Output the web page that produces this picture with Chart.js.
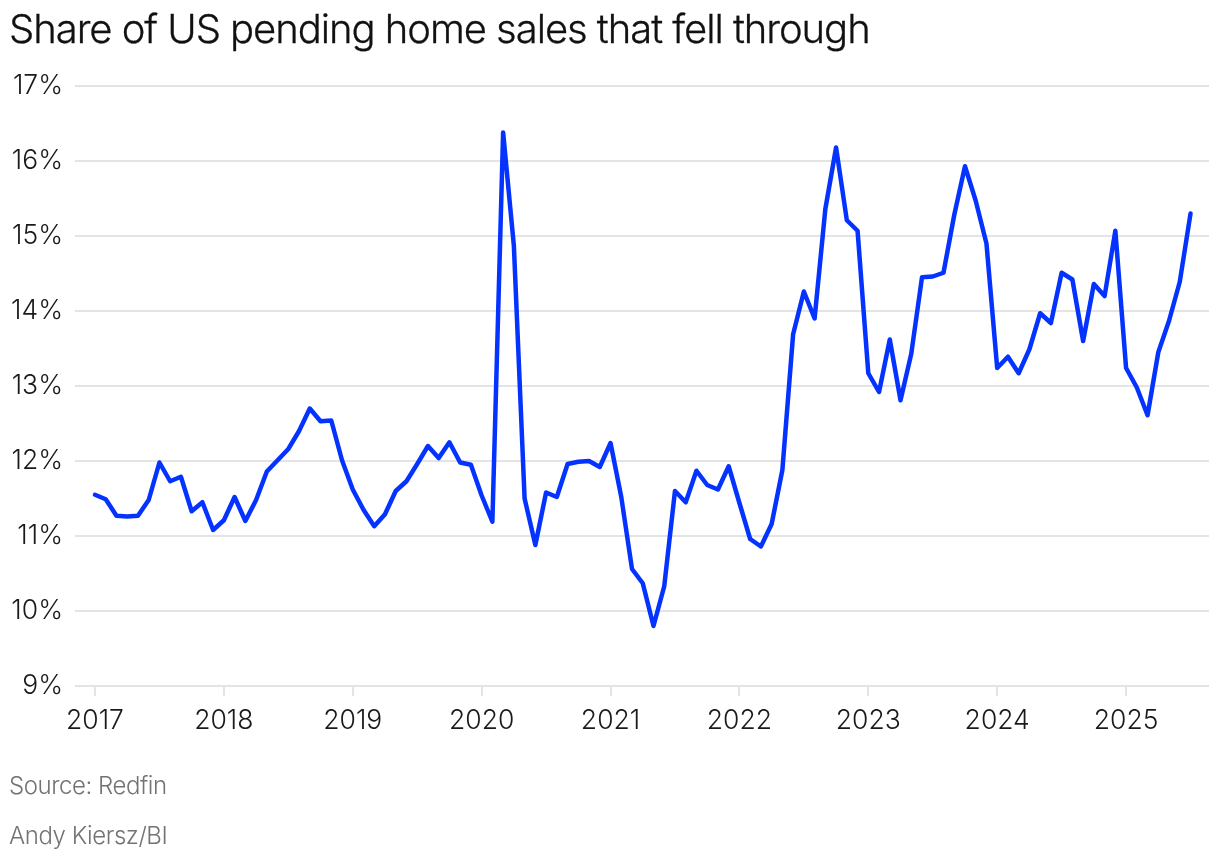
<!DOCTYPE html>
<html>
<head>
<meta charset="utf-8">
<title>Share of US pending home sales that fell through</title>
<script src="https://cdn.jsdelivr.net/npm/chart.js@4"></script>
<style>
    html, body { margin: 0; padding: 0; background: #fff; }
    body { width: 1220px; height: 860px; position: relative; overflow: hidden; font-family: Inter, sans-serif; }
    canvas { position: absolute; left: 0; top: 0; }
    .text { position: absolute; left: 9px; white-space: nowrap; }
    #title { top: 6px; font-size: 40px; line-height: 46px; font-weight: 300; letter-spacing: -1.05px; color: #111; -webkit-text-stroke: 0.3px #111; }
    .note { font-size: 24px; line-height: 30px; font-weight: 300; letter-spacing: -0.45px; color: #737373; }
</style>
</head>
<body>
<canvas id="fallThroughChart" width="1220" height="860"></canvas>
<div class="text" id="title">Share of US pending home sales that fell through</div>
<div class="text note" style="top: 771px">Source: Redfin</div>
<div class="text note" style="top: 821px">Andy Kiersz/BI</div>
<script>
window.addEventListener('DOMContentLoaded', function() {
    // Monthly values by year
    var values = {
        2017: [11.55, 11.49, 11.27, 11.26, 11.27, 11.48, 11.98, 11.73, 11.79, 11.33, 11.45, 11.08],
        2018: [11.21, 11.52, 11.20, 11.48, 11.86, 12.01, 12.16, 12.40, 12.70, 12.53, 12.54, 12.01],
        2019: [11.62, 11.35, 11.13, 11.29, 11.60, 11.73, 11.96, 12.20, 12.04, 12.25, 11.98, 11.95],
        2020: [11.54, 11.19, 16.38, 14.87, 11.50, 10.88, 11.58, 11.52, 11.96, 11.99, 12.00, 11.92],
        2021: [12.24, 11.52, 10.56, 10.37, 9.80, 10.33, 11.60, 11.45, 11.87, 11.68, 11.62, 11.93],
        2022: [11.44, 10.96, 10.86, 11.16, 11.88, 13.69, 14.26, 13.90, 15.36, 16.18, 15.21, 15.07],
        2023: [13.17, 12.92, 13.62, 12.81, 13.43, 14.45, 14.46, 14.51, 15.28, 15.93, 15.47, 14.90],
        2024: [13.24, 13.39, 13.17, 13.49, 13.97, 13.84, 14.51, 14.42, 13.60, 14.36, 14.20, 15.07],
        2025: [13.24, 12.98, 12.61, 13.45, 13.87, 14.39, 15.30]
    };

    // x is months since Jan 2017
    var points = [];
    Object.keys(values).forEach(function(year) {
        values[year].forEach(function(v, month) {
            points.push({ x: (year - 2017) * 12 + month, y: v });
        });
    });

    var tickFont = { family: 'Inter', size: 26.5, weight: '300' };

    var ctx = document.getElementById('fallThroughChart').getContext('2d');
    var fallThroughChart = new Chart(ctx, {
        type: 'line',
        data: {
            datasets: [{
                data: points,
                borderColor: '#0433ff',
                borderWidth: 4.5,
                borderJoinStyle: 'round',
                borderCapStyle: 'round',
                pointRadius: 0,
                tension: 0
            }]
        },
        options: {
            responsive: false,
            animation: false,
            layout: { padding: { top: 86, right: 11, bottom: 0, left: 0 } },
            plugins: {
                legend: { display: false },
                tooltip: { enabled: false }
            },
            scales: {
                x: {
                    type: 'linear',
                    min: -1.86,
                    max: 103.72,
                    afterBuildTicks: function(scale) {
                        scale.ticks = Object.keys(values).map(function(year) {
                            return { value: (year - 2017) * 12 };
                        });
                    },
                    afterFit: function(scale) { scale.height = 174; },
                    border: { display: false },
                    grid: { drawOnChartArea: false, color: '#e4e4e4', lineWidth: 2, tickLength: 10 },
                    ticks: {
                        color: '#1a1a1a',
                        font: tickFont,
                        padding: 9,
                        maxRotation: 0,
                        autoSkip: false,
                        callback: function(value) { return String(2017 + value / 12); }
                    }
                },
                y: {
                    min: 9,
                    max: 17,
                    afterFit: function(scale) { scale.width = 75; },
                    border: { display: false },
                    grid: { color: '#e4e4e4', lineWidth: 2, drawTicks: false },
                    ticks: {
                        stepSize: 1,
                        color: '#1a1a1a',
                        font: tickFont,
                        padding: 12,
                        callback: function(value) { return value + '%'; }
                    }
                }
            }
        }
    });
});
</script>
</body>
</html>
